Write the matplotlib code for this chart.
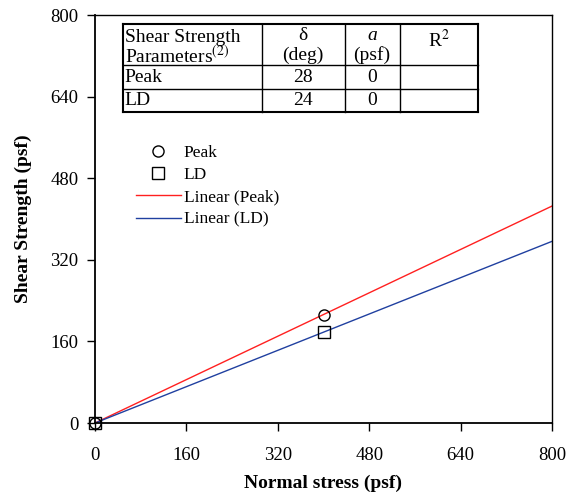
import numpy as np
import matplotlib
matplotlib.use('Agg')
import matplotlib.pyplot as plt

plt.rcParams['font.family'] = ['Liberation Serif', 'DejaVu Serif']
plt.rcParams['mathtext.fontset'] = 'stix'

# test data (normal stress, shear strength)
normal_stress = [0, 400]
peak_strength = [0, 212]
ld_strength = [0, 178]

# fitted friction angles (deg), adhesion (psf)
peak_delta = 28
ld_delta = 24
table_rows = ['Peak', 'LD']
table_delta = ['28', '24']
table_a = ['0', '0']

ticks = [0, 160, 320, 480, 640, 800]

fig = plt.figure(figsize=(5.71, 4.95), dpi=100)
ax = fig.add_axes([95 / 571, 1 - 423 / 495, 457 / 571, 408 / 495])

x_fit = np.array([0, 800])
ax.plot(normal_stress, peak_strength, 'o', mfc='none', mec='black', ms=8, mew=1.0,
        label='Peak', zorder=4, clip_on=False)
ax.plot(normal_stress, ld_strength, 's', mfc='none', mec='black', ms=9, mew=1.0,
        label='LD', zorder=4, clip_on=False)
ax.plot(x_fit, np.tan(np.radians(peak_delta)) * x_fit, color='#ff2020', lw=1.0, label='Linear (Peak)')
ax.plot(x_fit, np.tan(np.radians(ld_delta)) * x_fit, color='#2040a0', lw=1.0, label='Linear (LD)')

ax.set_xlim(0, 800)
ax.set_ylim(0, 800)
ax.set_xticks(ticks)
ax.set_yticks(ticks)
ax.tick_params(direction='out', length=6, width=1, labelsize=13.5, colors='black')
ax.tick_params(axis='x', pad=11)
ax.tick_params(axis='y', pad=6)
for s in ax.spines.values():
    s.set_linewidth(1.0)
ax.spines['left'].set_linewidth(1.3)
ax.spines['bottom'].set_linewidth(1.3)
ax.set_xlabel('Normal stress (psf)', fontsize=14, fontweight='bold', labelpad=8)
ax.set_ylabel('Shear Strength (psf)', fontsize=14, fontweight='bold', labelpad=13)

leg = ax.legend(loc='upper left', bbox_to_anchor=(0.055, 0.72), frameon=False,
                fontsize=12.5, handlelength=2.6, handletextpad=0.15, labelspacing=0.35)

# parameter table drawn in axes coords
def px(x):
    return (x - 95) / 457

def py(y):
    return (423 - y) / 408

col_x = [123, 262, 345, 400, 478]
row_y = [24, 65, 89, 112]
for yy in row_y:
    ax.plot([px(col_x[0]), px(col_x[-1])], [py(yy), py(yy)], transform=ax.transAxes,
            color='black', lw=1.0 if yy in row_y[1:3] else 1.5, clip_on=False)
for xx in col_x:
    ax.plot([px(xx), px(xx)], [py(row_y[0]), py(row_y[-1])], transform=ax.transAxes,
            color='black', lw=1.0 if xx not in (123, 478) else 1.5, clip_on=False)

fs = 14
ax.text(px(125), py(37), 'Shear Strength', transform=ax.transAxes, fontsize=fs, va='center', ha='left')
ax.text(px(125), py(56), r'Parameters$^{(2)}$', transform=ax.transAxes, fontsize=fs, va='center', ha='left')
ax.text(px(303), py(35), '\u03b4', transform=ax.transAxes, fontsize=fs, va='center', ha='center')
ax.text(px(303), py(55), '(deg)', transform=ax.transAxes, fontsize=fs, va='center', ha='center')
ax.text(px(372), py(35), 'a', transform=ax.transAxes, fontsize=fs, va='center', ha='center', style='italic')
ax.text(px(372), py(55), '(psf)', transform=ax.transAxes, fontsize=fs, va='center', ha='center')
ax.text(px(439), py(40), r'R$^2$', transform=ax.transAxes, fontsize=fs, va='center', ha='center')
for i, name in enumerate(table_rows):
    yc = py((row_y[i + 1] + row_y[i + 2]) / 2)
    ax.text(px(124), yc, name, transform=ax.transAxes, fontsize=fs, va='center', ha='left')
    ax.text(px(303), yc, table_delta[i], transform=ax.transAxes, fontsize=fs, va='center', ha='center')
    ax.text(px(372), yc, table_a[i], transform=ax.transAxes, fontsize=fs, va='center', ha='center')

fig.savefig('out.png', dpi=100)
